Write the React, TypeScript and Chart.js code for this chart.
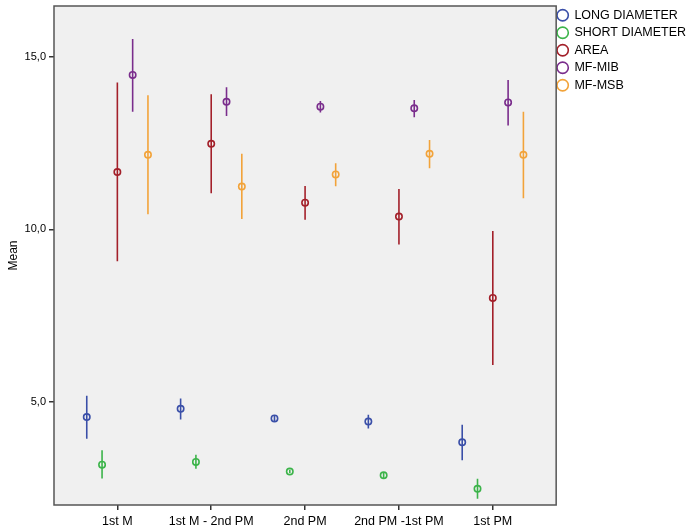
import React, { useEffect, useRef } from "react";
import { Chart, registerables } from "chart.js";

Chart.register(...registerables);

const categories = ["1st M", "1st M - 2nd PM", "2nd PM", "2nd PM -1st PM", "1st PM"];
const seriesNames = ["LONG DIAMETER", "SHORT DIAMETER", "AREA", "MF-MIB", "MF-MSB"];
const seriesColors = ["#3a4fa8", "#3cb44a", "#a3202a", "#7a2d8c", "#f2a33a"];

const longMean = [4.55, 4.79, 4.51, 4.42, 3.82];
const longLow = [3.92, 4.48, 4.41, 4.22, 3.30];
const longHigh = [5.17, 5.09, 4.59, 4.62, 4.33];

const shortMean = [3.17, 3.25, 2.97, 2.86, 2.47];
const shortLow = [2.77, 3.05, 2.92, 2.78, 2.18];
const shortHigh = [3.59, 3.46, 3.02, 2.94, 2.76];

const areaMean = [11.66, 12.48, 10.77, 10.37, 8.01];
const areaLow = [9.07, 11.05, 10.28, 9.56, 6.06];
const areaHigh = [14.26, 13.92, 11.26, 11.17, 9.95];

const mibMean = [14.48, 13.70, 13.56, 13.51, 13.68];
const mibLow = [13.41, 13.29, 13.39, 13.25, 13.01];
const mibHigh = [15.52, 14.12, 13.72, 13.75, 14.33];

const msbMean = [12.16, 11.24, 11.59, 12.19, 12.16];
const msbLow = [10.44, 10.30, 11.25, 11.77, 10.90];
const msbHigh = [13.89, 12.19, 11.92, 12.59, 13.41];

const yTicks = [5, 10, 15];

const means = [longMean, shortMean, areaMean, mibMean, msbMean];
const lows = [longLow, shortLow, areaLow, mibLow, msbLow];
const highs = [longHigh, shortHigh, areaHigh, mibHigh, msbHigh];

const FONT = "'Liberation Sans', Arial, sans-serif";
const GROUP_STEP = 0.163;

const plotFrame = {
  id: "plotFrame",
  beforeLayout(chart: any) {
    const lg = chart.legend;
    if (lg && !lg._tweaked) {
      lg._tweaked = true;
      const origFit = lg.fit.bind(lg);
      lg.fit = function () {
        origFit();
        this.width -= 3;
      };
      const origDraw = lg.draw.bind(lg);
      lg.draw = function () {
        const ctx = this.ctx;
        ctx.save();
        ctx.translate(-4, -2);
        origDraw();
        ctx.restore();
      };
    }
  },
  beforeDraw(chart: any) {
    const { ctx, chartArea: a } = chart;
    ctx.save();
    ctx.fillStyle = "#f0f0f0";
    ctx.fillRect(a.left, a.top, a.right - a.left, a.bottom - a.top);
    ctx.restore();
  },
  afterDraw(chart: any) {
    const { ctx, chartArea: a } = chart;
    ctx.save();
    ctx.strokeStyle = "#555555";
    ctx.lineWidth = 1.5;
    ctx.strokeRect(a.left, a.top, a.right - a.left, a.bottom - a.top);
    ctx.restore();
  },
};

export default function App() {
  const ref = useRef<HTMLCanvasElement | null>(null);

  useEffect(() => {
    document.body.style.margin = "0";
    const canvas = ref.current;
    if (!canvas) return;

    const errorSets = seriesNames.map((name, s) => {
      const off = (s - 2) * GROUP_STEP;
      const data: any[] = [];
      categories.forEach((_, i) => {
        data.push({ x: i + off, y: lows[s][i] });
        data.push({ x: i + off, y: highs[s][i] });
        data.push({ x: i + off, y: null });
      });
      return {
        type: "line" as const,
        label: name + " err",
        data,
        showLine: true,
        spanGaps: false,
        borderColor: seriesColors[s],
        borderWidth: 1.6,
        pointRadius: 0,
        pointHoverRadius: 0,
        fill: false,
      };
    });

    const meanSets = seriesNames.map((name, s) => {
      const off = (s - 2) * GROUP_STEP;
      return {
        type: "scatter" as const,
        label: name,
        data: categories.map((_, i) => ({ x: i + off, y: means[s][i] })),
        borderColor: seriesColors[s],
        backgroundColor: "rgba(240,240,240,0)",
        borderWidth: 1.6,
        pointRadius: 3.2,
        pointStyle: "circle",
      };
    });

    const chart = new Chart(canvas, {
      type: "scatter",
      data: { datasets: [...errorSets, ...meanSets] as any },
      plugins: [plotFrame],
      options: {
        animation: false,
        responsive: true,
        maintainAspectRatio: false,
        layout: { padding: { top: 6, right: 0, left: 0, bottom: 0 } },
        plugins: {
          tooltip: { enabled: false },
          legend: {
            position: "right",
            align: "start",
            labels: {
              usePointStyle: true,
              pointStyle: "circle",
              boxWidth: 11,
              boxHeight: 8,
              padding: 5,
              color: "#000",
              font: { family: FONT, size: 12.5 },
              filter: (item: any) => item.datasetIndex >= seriesNames.length,
            },
          },
        },
        scales: {
          x: {
            type: "linear",
            min: -0.675,
            max: categories.length - 1 + 0.675,
            afterBuildTicks: (s: any) => {
              s.ticks = categories.map((_, i) => ({ value: i }));
            },
            afterFit: (s: any) => {
              s.height = 27;
              s.paddingLeft = 0;
              s.paddingRight = 0;
            },
            ticks: {
              autoSkip: false,
              maxRotation: 0,
              color: "#000",
              font: { family: FONT, size: 12.5 },
              padding: 4,
              callback: (v: any) => categories[Math.round(Number(v))] ?? "",
            },
            grid: { drawOnChartArea: false, drawTicks: true, tickLength: 5, color: "#333", lineWidth: 1.5 },
            border: { display: false },
          },
          y: {
            type: "linear",
            min: 2.0,
            max: 16.48,
            afterBuildTicks: (s: any) => {
              s.ticks = yTicks.map((v) => ({ value: v }));
            },
            afterFit: (s: any) => {
              s.width = 54;
              s.paddingTop = 0;
              s.paddingBottom = 0;
            },
            ticks: {
              color: "#000",
              font: { family: FONT, size: 11 },
              padding: 3,
              callback: (v: any) => Number(v).toFixed(1).replace(".", ","),
            },
            title: {
              display: true,
              text: "Mean",
              color: "#000",
              font: { family: FONT, size: 12 },
              padding: { top: 6, bottom: 0 },
            },
            grid: { drawOnChartArea: false, drawTicks: true, tickLength: 5, color: "#333", lineWidth: 1.5 },
            border: { display: false },
          },
        },
      },
    });

    return () => chart.destroy();
  }, []);

  return (
    <div style={{ position: "relative", width: 697, height: 532, background: "#fff" }}>
      <canvas ref={ref} />
    </div>
  );
}
